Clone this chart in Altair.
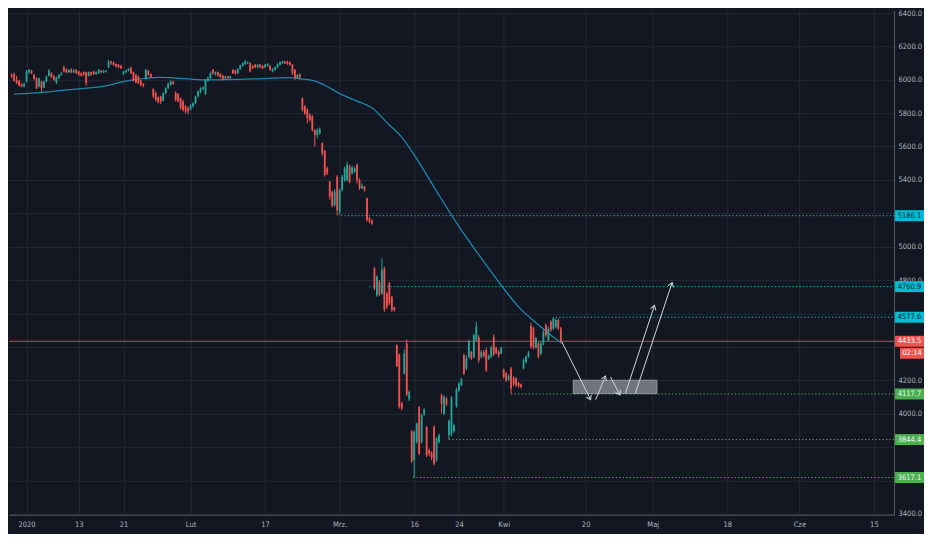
import math
import altair as alt
import pandas as pd

# ---------------- layout ----------------
W, H = 886, 505
AX = 30                        # right price-axis strip
X_DOMAIN = [-5.06, 347.1]      # bar index (3 bars per trading day)
Y_DOMAIN = [3394, 6417]

# ---------------- data ----------------
FIRST_BAR = -6
opens = [
    6030, 6035, 6000, 5995, 5975, 5960,
    5990, 6045, 6055, 6030, 6010, 5960,
    5990, 5955, 5990, 6025, 6040, 6020,
    5985, 6010, 6030, 6075, 6060, 6045,
    6060, 6045, 6060, 6050, 6040, 6045,
    6045, 6025, 6045, 6050, 6035, 6040,
    6055, 6045, 6050, 6075, 6110, 6105,
    6095, 6090, 6085, 6035, 6045, 6055,
    6070, 6045, 6030, 6020, 5995, 5975,
    6005, 6055, 6035, 5945, 5920, 5895,
    5900, 5875, 5920, 5950, 5970, 5985,
    5925, 5915, 5890, 5870, 5840, 5830,
    5825, 5840, 5860, 5900, 5925, 5945,
    5915, 5995, 6010, 6060, 6035, 6045,
    6035, 6025, 6010, 6020, 6010, 6060,
    6055, 6040, 6065, 6085, 6095, 6100,
    6100, 6080, 6090, 6075, 6090, 6085,
    6075, 6085, 6085, 6050, 6060, 6075,
    6090, 6100, 6110, 6110, 6105, 6090,
    6060, 6010, 6030, 5890, 5840, 5820,
    5790, 5780, 5700, 5670, 5680, 5620,
    5575, 5470, 5390, 5330, 5250, 5420,
    5210, 5340, 5400, 5400, 5480, 5440,
    5450, 5490, 5400, 5350, 5360, 5290,
    5170, 5155, 4870, 4710, 4790, 4720,
    4870, 4720, 4780, 4700, 4635, 4410,
    4355, 4065, 4240, 4420, 4085, 3895,
    3720, 3830, 4040, 3830, 3995, 3920,
    3780, 3765, 3920, 3720, 3830, 4110,
    4000, 4090, 3870, 3875, 3895, 4045,
    4140, 4170, 4350, 4270, 4340, 4370,
    4340, 4440, 4455, 4340, 4370, 4380,
    4330, 4340, 4460, 4395, 4370, 4360,
    4265, 4240, 4205, 4270, 4215, 4210,
    4185, 4175, 4270, 4310, 4340, 4525,
    4510, 4395, 4420, 4360, 4420, 4530,
    4440, 4550, 4510, 4520, 4560, 4510,
]
highs = [
    6040, 6045, 6025, 6000, 5980, 5985,
    6060, 6065, 6060, 6035, 6015, 6015,
    5995, 5995, 6025, 6065, 6045, 6030,
    6020, 6035, 6045, 6085, 6070, 6065,
    6070, 6065, 6065, 6055, 6045, 6050,
    6050, 6050, 6050, 6055, 6050, 6065,
    6060, 6060, 6060, 6120, 6115, 6110,
    6100, 6095, 6090, 6055, 6060, 6070,
    6080, 6050, 6035, 6025, 6000, 5980,
    6065, 6060, 6040, 5950, 5930, 5900,
    5905, 5925, 5955, 5985, 5995, 5995,
    5930, 5920, 5895, 5880, 5850, 5840,
    5855, 5865, 5905, 5935, 5955, 5960,
    6005, 6020, 6050, 6065, 6050, 6050,
    6040, 6030, 6025, 6025, 6025, 6065,
    6060, 6070, 6090, 6105, 6120, 6110,
    6105, 6090, 6095, 6095, 6095, 6090,
    6095, 6100, 6090, 6070, 6080, 6100,
    6110, 6115, 6115, 6115, 6110, 6095,
    6065, 6035, 6040, 5895, 5850, 5830,
    5800, 5790, 5705, 5710, 5715, 5625,
    5580, 5480, 5395, 5335, 5345, 5430,
    5350, 5430, 5480, 5510, 5495, 5485,
    5480, 5500, 5410, 5380, 5365, 5295,
    5180, 5165, 4880, 4830, 4800, 4930,
    4880, 4730, 4790, 4705, 4640, 4415,
    4360, 4070, 4385, 4445, 4140, 3900,
    3900, 3945, 4045, 4000, 4035, 3925,
    3790, 3775, 3930, 3860, 3880, 4120,
    4110, 4100, 3965, 4105, 3940, 4155,
    4190, 4215, 4360, 4350, 4445, 4375,
    4480, 4550, 4470, 4380, 4380, 4395,
    4355, 4405, 4475, 4400, 4380, 4400,
    4270, 4250, 4235, 4280, 4225, 4220,
    4190, 4180, 4330, 4350, 4375, 4545,
    4520, 4460, 4430, 4430, 4500, 4540,
    4520, 4560, 4577.6, 4570, 4570, 4520,
]
lows = [
    6010, 5990, 5975, 5960, 5955, 5955,
    5985, 6035, 6035, 6000, 5945, 5955,
    5925, 5950, 5985, 6020, 6010, 5995,
    5975, 6005, 6025, 6045, 6040, 6040,
    6040, 6040, 6035, 6025, 6020, 6025,
    5965, 6020, 6025, 6030, 6030, 6035,
    6040, 6040, 6045, 6070, 6090, 6085,
    6075, 6070, 6065, 6030, 6040, 6050,
    6035, 5990, 5980, 5975, 5960, 5955,
    6000, 6025, 6010, 5890, 5870, 5860,
    5855, 5870, 5915, 5945, 5965, 5970,
    5870, 5865, 5820, 5810, 5800, 5795,
    5815, 5835, 5855, 5895, 5920, 5940,
    5910, 5990, 6005, 6030, 6025, 6020,
    6010, 5995, 6005, 6000, 6005, 6035,
    6030, 6035, 6060, 6080, 6090, 6095,
    6045, 6065, 6070, 6070, 6070, 6065,
    6070, 6080, 6055, 6045, 6055, 6070,
    6085, 6095, 6095, 6090, 6085, 6030,
    6000, 6005, 6000, 5810, 5790, 5740,
    5750, 5690, 5600, 5650, 5670, 5545,
    5420, 5430, 5280, 5235, 5240, 5186,
    5190, 5330, 5390, 5390, 5380, 5430,
    5440, 5380, 5340, 5345, 5330, 5150,
    5140, 5130, 4740, 4700, 4705, 4710,
    4610, 4625, 4650, 4610, 4610, 4280,
    4030, 4020, 4235, 4105, 4075, 3705,
    3617, 3820, 3750, 3820, 3985, 3740,
    3745, 3720, 3690, 3710, 3820, 4000,
    3990, 4045, 3844, 3865, 3885, 4035,
    4130, 4165, 4230, 4260, 4330, 4320,
    4330, 4430, 4305, 4330, 4335, 4250,
    4320, 4335, 4345, 4355, 4335, 4355,
    4210, 4190, 4195, 4118, 4165, 4160,
    4155, 4150, 4265, 4300, 4335, 4390,
    4385, 4390, 4330, 4350, 4410, 4460,
    4430, 4490, 4500, 4510, 4500, 4420,
]
closes = [
    6020, 5995, 5980, 5965, 5960, 5975,
    6050, 6060, 6040, 6005, 5950, 6010,
    5950, 5990, 6020, 6055, 6015, 6000,
    6015, 6030, 6040, 6050, 6045, 6060,
    6045, 6055, 6040, 6030, 6025, 6030,
    5980, 6045, 6030, 6035, 6045, 6060,
    6045, 6055, 6055, 6110, 6100, 6090,
    6080, 6075, 6070, 6050, 6055, 6065,
    6040, 5995, 5985, 5980, 5970, 5965,
    6060, 6030, 6015, 5900, 5880, 5865,
    5870, 5920, 5950, 5975, 5990, 5975,
    5880, 5870, 5830, 5820, 5810, 5810,
    5845, 5860, 5900, 5930, 5950, 5955,
    6000, 6010, 6040, 6040, 6045, 6025,
    6015, 6005, 6020, 6010, 6020, 6040,
    6040, 6065, 6085, 6100, 6110, 6105,
    6050, 6070, 6075, 6090, 6075, 6070,
    6090, 6095, 6060, 6065, 6075, 6095,
    6105, 6110, 6100, 6095, 6090, 6040,
    6010, 6030, 6015, 5820, 5800, 5770,
    5760, 5700, 5670, 5700, 5705, 5560,
    5430, 5440, 5300, 5245, 5330, 5220,
    5340, 5420, 5470, 5490, 5390, 5475,
    5470, 5400, 5350, 5365, 5340, 5160,
    5150, 5140, 4750, 4820, 4715, 4860,
    4625, 4640, 4660, 4620, 4620, 4285,
    4040, 4030, 4360, 4115, 4130, 3715,
    3890, 3940, 3760, 3990, 4025, 3750,
    3760, 3735, 3700, 3850, 3870, 4060,
    4100, 4055, 3955, 4095, 3930, 4145,
    4180, 4205, 4240, 4330, 4435, 4330,
    4470, 4520, 4320, 4370, 4345, 4260,
    4345, 4395, 4355, 4365, 4350, 4395,
    4220, 4200, 4225, 4150, 4175, 4170,
    4165, 4160, 4320, 4340, 4365, 4400,
    4395, 4450, 4340, 4420, 4490, 4470,
    4510, 4500, 4570, 4560, 4510, 4433.5,
]

ma_bars = [-5.1, 7.8, 21, 31.2, 39, 44.4, 53.4, 72.8, 92.3, 105.2, 110.6, 115.7,
           120.8, 126.2, 132.5, 139.1, 145.7, 150.8, 158.6, 166.3, 174.1, 181.9,
           189.7, 198.3, 204.5, 211.1, 215]
ma_values = [5914, 5927, 5946, 5962, 5990, 6003, 6015, 6000, 6006, 6013, 6006, 5994,
             5962, 5916, 5876, 5831, 5734, 5660, 5489, 5301, 5119, 4954,
             4795, 4635, 4550, 4470, 4425]

tick_bars = [0, 21, 39, 66, 96, 126, 156, 174, 192, 225, 252, 282, 311, 341]
tick_labels = ["2020", "13", "21", "Lut", "17", "Mrz.", "16", "24", "Kwi", "20",
               "Maj", "18", "Cze", "15"]
price_ticks = list(range(3400, 6401, 200))
hidden_price_labels = [5200, 4600, 4400, 3800, 3600]   # covered by price tags

level_prices = [5186.1, 4760.9, 4577.6, 4117.7, 3844.4, 3617.1]
level_start = [126.5, 138, 213, 195, 170, 155.5]
level_colors = ["#00bcd4", "#00bcd4", "#00bcd4", "#4caf50", "#4caf50", "#4caf50"]
level_text = ["#10202a", "#10202a", "#10202a", "#f0f3fa", "#f0f3fa", "#f0f3fa"]

last_price = [4433.5]
countdown = ["02:14"]

zone_bars = [220, 253.7]
zone_prices = [4120, 4200]

arrow_x0 = [215.3, 229, 235, 241, 245]
arrow_p0 = [4434, 4083, 4220, 4121, 4121]
arrow_x1 = [227, 233, 238.8, 252.7, 259.8]
arrow_p1 = [4083, 4225, 4112, 4648, 4785]

# ---------------- style ----------------
FONT = "DejaVu Sans Condensed, Liberation Sans Narrow, Liberation Sans, sans-serif"
FS = 7.5
BG = "#131722"
GRID = "#242833"
AXIS_LINE = "#545862"
LABEL = "#b2b5be"
UP, DOWN = "#26a69a", "#ef5350"

# ---------------- tables ----------------
bars = list(range(FIRST_BAR, FIRST_BAR + len(closes)))
candles = pd.DataFrame({"bar": bars, "open": opens, "high": highs,
                        "low": lows, "close": closes})
candles["dir"] = ["up" if c >= o else "down" for o, c in zip(opens, closes)]

ma_df = pd.DataFrame({"bar": ma_bars, "value": ma_values})

levels = pd.DataFrame({"price": level_prices, "start": level_start,
                       "color": level_colors})

tags = pd.DataFrame({
    "price": level_prices + last_price,
    "label": [f"{p:.1f}" for p in level_prices + last_price],
    "box": level_colors + ["#ef5350"],
    "txt": level_text + ["#ffffff"],
})
last_df = pd.DataFrame({"price": last_price, "label": countdown})
zone_df = pd.DataFrame({"x0": [zone_bars[0]], "x1": [zone_bars[1]],
                        "p0": [zone_prices[0]], "p1": [zone_prices[1]]})

sx = W / (X_DOMAIN[1] - X_DOMAIN[0])
sy = H / (Y_DOMAIN[1] - Y_DOMAIN[0])
angles = []
for a, b, c, d in zip(arrow_x0, arrow_p0, arrow_x1, arrow_p1):
    dx = (c - a) * sx
    dup = (d - b) * sy
    angles.append(math.degrees(math.atan2(dx, dup)) % 360)
arrows = pd.DataFrame({"x0": arrow_x0, "p0": arrow_p0, "x1": arrow_x1,
                       "p1": arrow_p1, "angle": angles})

# ---------------- axes / scales ----------------
x_label_expr = ("[" + ",".join(f"'{t}'" for t in tick_labels) + "][indexof([" +
                ",".join(str(v) for v in tick_bars) + "], datum.value)]")
y_label_expr = ("indexof([" + ",".join(str(v) for v in hidden_price_labels) +
                "], datum.value) >= 0 ? '' : format(datum.value, '.1f')")
x_axis = alt.Axis(values=tick_bars, labelExpr=x_label_expr, title=None, grid=True,
                  gridColor=GRID, ticks=False, domainColor=AXIS_LINE,
                  labelColor=LABEL, labelFont=FONT, labelFontSize=FS,
                  labelPadding=6, labelOverlap=False, labelFlush=False,
                  minExtent=19, maxExtent=19)
y_axis = alt.Axis(orient="right", values=price_ticks, labelExpr=y_label_expr,
                  title=None, grid=True, gridColor=GRID, ticks=False,
                  domainColor=AXIS_LINE, labelColor=LABEL, labelFont=FONT,
                  labelFontSize=FS, labelAlign="left", labelBaseline="middle",
                  labelPadding=4, labelOverlap=False, minExtent=AX, maxExtent=AX)
xs = alt.Scale(domain=X_DOMAIN, nice=False, zero=False)
ys = alt.Scale(domain=Y_DOMAIN, nice=False, zero=False)


def X(f):
    return alt.X(f, type="quantitative", scale=xs, axis=x_axis)


def Y(f):
    return alt.Y(f, type="quantitative", scale=ys, axis=y_axis)


color = alt.Color("dir:N", scale=alt.Scale(domain=["up", "down"], range=[UP, DOWN]),
                  legend=None)

# ---------------- layers ----------------
level_rules = alt.Chart(levels).mark_rule(strokeDash=[1.3, 2.2], strokeWidth=1).encode(
    x=X("start"), x2=alt.value(W), y=Y("price"), color=alt.Color("color:N", scale=None))

current_line = alt.Chart(last_df).mark_rule(color=DOWN, strokeWidth=1, opacity=0.8).encode(
    x=alt.value(0), x2=alt.value(W), y=Y("price"))

zone = alt.Chart(zone_df).mark_rect(fill="#8b8e96", fillOpacity=0.78, stroke="#b2b5be",
                                    strokeWidth=1, strokeOpacity=0.7).encode(
    x=X("x0"), x2="x1", y=Y("p0"), y2="p1")

ma = alt.Chart(ma_df).mark_line(color="#1f86ad", strokeWidth=1.3,
                                interpolate="monotone", clip=True).encode(
    x=X("bar"), y=Y("value"))

wicks = alt.Chart(candles).mark_rule(strokeWidth=1, clip=True).encode(
    x=X("bar"), y=Y("low"), y2="high", color=color)

bodies = alt.Chart(candles).mark_bar(width=1.8, clip=True).encode(
    x=X("bar"), y=Y("open"), y2="close", color=color)

arrow_lines = alt.Chart(arrows).mark_rule(color="#d1d4dc", strokeWidth=1).encode(
    x=X("x0"), x2="x1", y=Y("p0"), y2="p1")

heads = alt.Chart(arrows).mark_point(shape="M-0.8,1.2L0,0L0.8,1.2", filled=False,
                                     size=49, strokeWidth=1, color="#d1d4dc",
                                     opacity=1).encode(
    x=X("x1"), y=Y("p1"), angle=alt.Angle("angle:Q", scale=None))

tag_boxes = alt.Chart(tags).mark_rect(yOffset=-5.5, y2Offset=5.5).encode(
    x=alt.value(W + 1), x2=alt.value(W + AX), y=Y("price"), y2="price",
    color=alt.Color("box:N", scale=None))

tag_text = alt.Chart(tags).mark_text(font=FONT, fontSize=FS, align="center",
                                     baseline="middle").encode(
    x=alt.value(W + 1 + (AX - 1) / 2), y=Y("price"), text="label:N",
    color=alt.Color("txt:N", scale=None))

cd_box = alt.Chart(last_df).mark_rect(color=DOWN, yOffset=6.5, y2Offset=17.5).encode(
    x=alt.value(W + 6), x2=alt.value(W + AX), y=Y("price"), y2="price")

cd_text = alt.Chart(last_df).mark_text(font=FONT, fontSize=FS, align="center",
                                       baseline="middle", dy=12, color="#ffffff").encode(
    x=alt.value(W + 6 + (AX - 6) / 2), y=Y("price"), text="label:N")

chart = alt.layer(
    level_rules, current_line, zone, ma, wicks, bodies, arrow_lines, heads,
    tag_boxes, tag_text, cd_box, cd_text
).properties(
    width=W, height=H, padding=0, background=BG
).configure_view(stroke=None)

chart.save("out.html", embed_options={"renderer": "svg", "actions": False})
